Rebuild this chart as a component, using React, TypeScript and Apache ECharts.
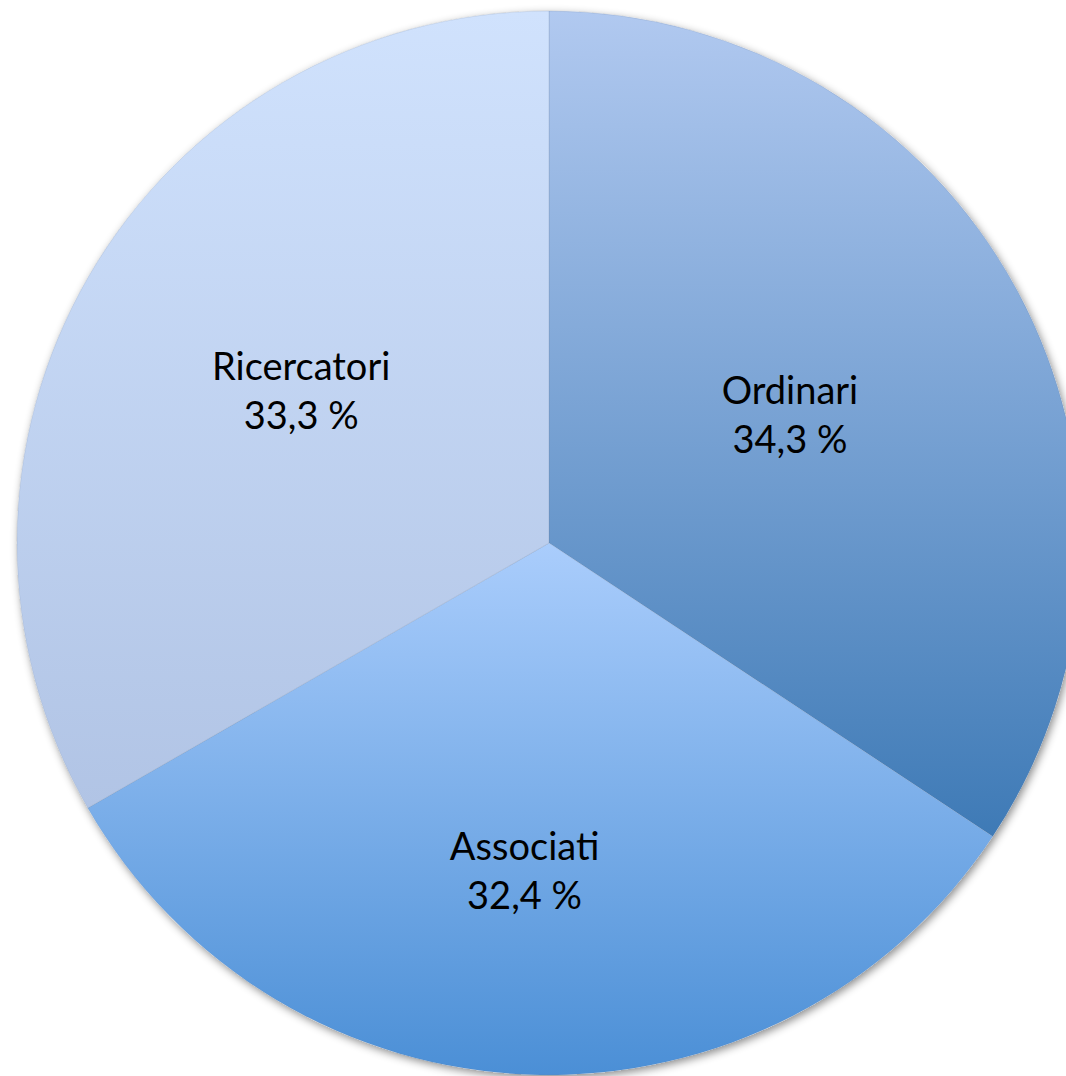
import React, { useEffect, useRef } from "react";
import * as echarts from "echarts";

const categories = ["Ordinari", "Associati", "Ricercatori"];
const values = [34.3, 32.4, 33.3];
const labelTexts = ["34,3 %", "32,4 %", "33,3 %"];

const gradients: [string, string][] = [
  ["#b1c9f0", "#3e7ab6"],
  ["#aacdfc", "#4b8fd6"],
  ["#d0e2fd", "#b1c4e5"],
];
const labelShift: [number, number][] = [
  [4, -2],
  [-16, 58],
  [-15, -19],
];

export default function App() {
  const ref = useRef<HTMLDivElement>(null);
  useEffect(() => {
    if (!ref.current) return;
    const chart = echarts.init(ref.current, null, { renderer: "svg" });
    const total = values.reduce((a, b) => a + b, 0);
    chart.setOption({
      animation: false,
      backgroundColor: "#ffffff",
      series: [
        {
          type: "pie",
          silent: true,
          center: [549, 543],
          radius: 532,
          z: 1,
          label: { show: false },
          labelLine: { show: false },
          itemStyle: {
            color: "#ffffff",
            shadowBlur: 8,
            shadowOffsetX: 2,
            shadowOffsetY: 3,
            shadowColor: "rgba(0,0,0,0.45)",
          },
          data: [{ value: total, name: "bg" }],
        },
        {
          type: "pie",
          center: [549, 543],
          radius: 532,
          startAngle: 90,
          clockwise: true,
          z: 2,
          avoidLabelOverlap: false,
          label: {
            show: true,
            position: "inside",
            color: "#000000",
            fontFamily: "Lato",
            fontSize: 38,
            lineHeight: 49,
            formatter: (p: any) => `${p.name}\n${labelTexts[p.dataIndex]}`,
          },
          labelLayout: (p: any) => ({
            dx: labelShift[p.dataIndex][0],
            dy: labelShift[p.dataIndex][1],
          }),
          labelLine: { show: false },
          emphasis: { disabled: true },
          itemStyle: {
            borderWidth: 0.6,
            borderColor: "rgba(110,130,160,0.35)",
          },
          data: categories.map((name, i) => ({
            name,
            value: values[i],
            itemStyle: {
              color: new echarts.graphic.LinearGradient(0, 0, 0, 1, [
                { offset: 0, color: gradients[i][0] },
                { offset: 1, color: gradients[i][1] },
              ]),
            },
          })),
        },
      ],
    });
    return () => chart.dispose();
  }, []);
  return (
    <div
      ref={ref}
      style={{ position: "fixed", left: 0, top: 0, width: 1066, height: 1076 }}
    />
  );
}
